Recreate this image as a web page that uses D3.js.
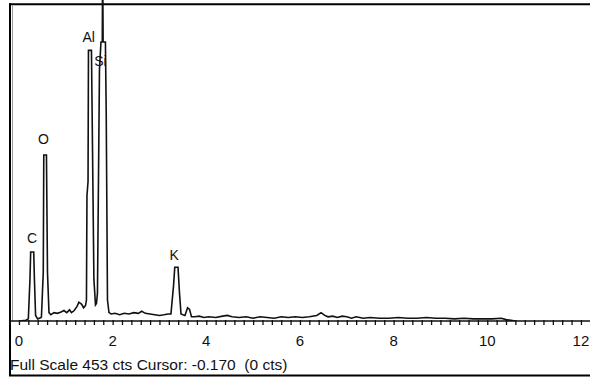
<!DOCTYPE html>
<html>
<head>
<meta charset="utf-8">
<script src="https://cdn.jsdelivr.net/npm/d3@7"></script>
<style>
  html, body { margin: 0; padding: 0; background: #fff; }
  svg { display: block; }
  text { font-family: "Liberation Sans", Arial, sans-serif; fill: #111; }
</style>
</head>
<body>
<svg id="chart" width="590" height="377"></svg>
<script>
// ---- data ----
const energies = [0.00,0.15,0.20,0.235,0.25,0.315,0.33,0.355,0.40,0.47,
  0.48,0.519,0.53,0.587,0.609,0.641,0.68,0.75,0.82,0.90,0.96,1.02,1.08,1.12,1.18,1.24,1.28,1.34,1.38,
  1.42,1.441,1.452,1.475,1.484,1.548,1.57,1.60,1.634,1.655,
  1.676,1.719,1.751,1.779,1.787,1.797,1.846,1.863,1.878,1.89,1.922,
  1.97,2.05,2.15,2.25,2.35,2.45,2.55,2.62,2.70,2.80,2.90,3.00,3.10,3.18,
  3.245,3.30,3.327,3.396,3.428,3.46,3.50,3.545,3.60,3.64,3.684,3.75,3.85,3.95,4.05,4.20,4.35,4.45,4.55,4.70,4.85,5.00,5.15,5.30,5.45,5.60,5.75,5.90,6.05,6.20,6.36,6.45,6.53,6.60,6.70,6.80,6.90,7.00,7.10,7.20,7.35,7.50,7.70,7.90,8.10,8.30,8.50,8.70,8.90,9.10,9.30,9.50,9.70,9.90,10.10,10.30,10.40,10.60];
const counts = [0,1,3,60,99,99,60,8,3,5,
  6,70,238,238,70,12,9,12,11,13,15,12,16,12,15,21,27,24,19,
  22,30,180,200,388,388,250,60,23,25,
  40,360,400,400,520,400,400,300,150,30,12,
  10,11,9,11,10,12,11,14,11,10,9,8,9,10,
  10,50,77,77,40,10,9,8,19,17,6,6,7,5,6,5,7,8,6,5,6,4,6,5,4,6,5,6,5,6,8,12,8,6,7,5,7,6,4,6,4,5,4,4,5,4,4,5,4,4,3,4,3,3,3,4,2,0];
const peakLabels = ["C","O","Al","Si","K"];
const peakEnergies = [0.277,0.525,1.487,1.740,3.312];
const peakLabelCounts = [112,254,400,365,88];
const tickLabels = ["0","2","4","6","8","10","12"];
const fullScale = 453;
const footer = "Full Scale 453 cts Cursor: -0.170  (0 cts)";

// ---- layout ----
const svg = d3.select("#chart");
const x = d3.scaleLinear().domain([-0.2, 12.2]).range([9.6, 590.3]);
const y = d3.scaleLinear().domain([0, fullScale]).range([321, 5]);

// frame
svg.append("line").attr("x1", 9).attr("x2", 590).attr("y1", 4.3).attr("y2", 4.3)
  .attr("stroke", "#000").attr("stroke-width", 2);
svg.append("line").attr("x1", 10).attr("x2", 10).attr("y1", 3.3).attr("y2", 376)
  .attr("stroke", "#000").attr("stroke-width", 2);
svg.append("line").attr("x1", 12.5).attr("x2", 12.5).attr("y1", 5).attr("y2", 321)
  .attr("stroke", "#999").attr("stroke-width", 1);
svg.append("line").attr("x1", 9).attr("x2", 590).attr("y1", 375.5).attr("y2", 375.5)
  .attr("stroke", "#000").attr("stroke-width", 2);

// clip for spectrum
svg.append("clipPath").attr("id", "clip").append("rect")
  .attr("x", 11).attr("y", 0).attr("width", 579).attr("height", 321);

const pts = energies.map((e, i) => [e, counts[i]]);
const line = d3.line().x(d => x(d[0])).y(d => y(d[1]));
svg.append("path").datum(pts).attr("d", line).attr("clip-path", "url(#clip)")
  .attr("fill", "none").attr("stroke", "#111").attr("stroke-width", 1.6)
  .attr("stroke-linejoin", "miter");

// x axis
const axis = d3.axisBottom(x)
  .tickValues(d3.range(-0.2, 12.21, 0.2).map(v => Math.round(v * 10) / 10))
  .tickSize(4).tickFormat("");
const ag = svg.append("g").attr("transform", "translate(0,321)").call(axis);
ag.select(".domain").remove();
ag.selectAll(".tick line").attr("stroke", "#111").attr("stroke-width", 1.3).attr("y1", -1);
svg.append("line").attr("x1", 10).attr("x2", 590).attr("y1", 321).attr("y2", 321)
  .attr("stroke", "#111").attr("stroke-width", 1.5);

svg.selectAll(".tlab").data(tickLabels).enter().append("text")
  .attr("class", "tlab")
  .attr("x", d => x(+d)).attr("y", 346)
  .attr("text-anchor", "middle").attr("font-size", 15)
  .text(d => d);

// peak labels
svg.selectAll(".plab").data(peakLabels).enter().append("text")
  .attr("class", "plab")
  .attr("x", (d, i) => x(peakEnergies[i])).attr("y", (d, i) => y(peakLabelCounts[i]))
  .attr("text-anchor", "middle").attr("font-size", 14)
  .text(d => d);

// footer
svg.append("text").attr("x", 10).attr("y", 370).attr("font-size", 15.5)
  .attr("xml:space", "preserve").style("white-space", "pre")
  .text(footer);
</script>
</body>
</html>
